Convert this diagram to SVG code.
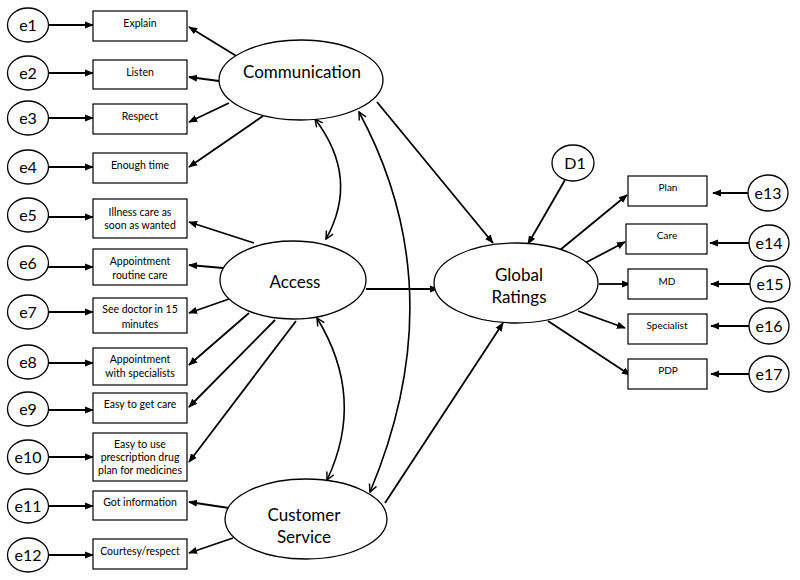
<svg xmlns="http://www.w3.org/2000/svg" width="800" height="580" viewBox="0 0 800 580">
<style>
.e{fill:#fff;stroke:#000;stroke-width:1.3}
.b{fill:#fff;stroke:#000;stroke-width:1.2}
.lt{font-family:Lato,"Liberation Sans",sans-serif;font-size:16px;text-anchor:middle;fill:#000}
.bt{font-family:Lato,"Liberation Sans",sans-serif;font-size:10.5px;text-anchor:middle;fill:#000}
.rt{font-family:Lato,"Liberation Sans",sans-serif;font-size:10px;text-anchor:middle;fill:#000}
.big{font-family:Lato,"Liberation Sans",sans-serif;font-size:17px;text-anchor:middle;fill:#000}
.c line{stroke:#000;stroke-width:1.8;marker-end:url(#ah)}
.c path{fill:none;stroke:#000;stroke-width:1.6;marker-start:url(#oh);marker-end:url(#oh)}
</style>
<defs>
<marker id="ah" viewBox="0 0 10 10" refX="9" refY="5" markerWidth="5" markerHeight="5" orient="auto" markerUnits="strokeWidth"><path d="M0,1 L10,5 L0,9 z" fill="#000"/></marker>
<marker id="oh" viewBox="0 0 10 10" refX="9" refY="5" markerWidth="6" markerHeight="6" orient="auto-start-reverse" markerUnits="strokeWidth"><path d="M1,1 L9,5 L1,9" fill="none" stroke="#000" stroke-width="1.5"/></marker>
</defs>
<rect width="800" height="580" fill="#fff"/>
<g class="c" id="connectors">
<line x1="48" y1="25" x2="93" y2="25"/>
<line x1="48" y1="73" x2="93" y2="73"/>
<line x1="48" y1="118" x2="93" y2="118"/>
<line x1="48" y1="167" x2="93" y2="167"/>
<line x1="48" y1="217" x2="93" y2="217"/>
<line x1="48" y1="267" x2="93" y2="267"/>
<line x1="48" y1="312" x2="93" y2="312"/>
<line x1="48" y1="363" x2="93" y2="363"/>
<line x1="48" y1="410" x2="93" y2="410"/>
<line x1="48" y1="457" x2="93" y2="457"/>
<line x1="48" y1="506" x2="93" y2="506"/>
<line x1="48" y1="555" x2="93" y2="555"/>
<line x1="238" y1="57" x2="189" y2="27"/>
<line x1="219" y1="81" x2="189" y2="77"/>
<line x1="229" y1="103" x2="189" y2="122"/>
<line x1="263" y1="116" x2="189" y2="167"/>
<line x1="254" y1="243" x2="189" y2="222"/>
<line x1="223" y1="268" x2="189" y2="265"/>
<line x1="229" y1="299" x2="189" y2="313"/>
<line x1="249" y1="313" x2="189" y2="365"/>
<line x1="275" y1="320" x2="189" y2="407"/>
<line x1="296" y1="321" x2="189" y2="462"/>
<line x1="229" y1="508" x2="189" y2="502"/>
<line x1="233" y1="538" x2="189" y2="553"/>
<line x1="377" y1="102" x2="493" y2="243"/>
<line x1="366" y1="289" x2="438" y2="289"/>
<line x1="385" y1="503" x2="503" y2="323"/>
<line x1="565" y1="180" x2="528" y2="244"/>
<line x1="560" y1="250" x2="627" y2="195"/>
<line x1="585" y1="263" x2="625" y2="242"/>
<line x1="599" y1="284" x2="630" y2="284"/>
<line x1="578" y1="311" x2="625" y2="328"/>
<line x1="548" y1="321" x2="630" y2="375"/>
<line x1="749" y1="193" x2="713" y2="193"/>
<line x1="749" y1="243" x2="710" y2="243"/>
<line x1="750" y1="284" x2="711" y2="284"/>
<line x1="749" y1="326" x2="711" y2="326"/>
<line x1="749" y1="374" x2="711" y2="374"/>
<path d="M315,119 Q360,178 326,239"/>
<path d="M317,318 Q366,398 327,480"/>
<path d="M359,112 Q455,290 370,492"/>
</g>
<g id="e1"><ellipse class="e" cx="28" cy="25" rx="20.5" ry="17"/><text class="lt" x="28" y="31">e1</text></g>
<g id="e2"><ellipse class="e" cx="28" cy="73" rx="20.5" ry="17"/><text class="lt" x="28" y="79">e2</text></g>
<g id="e3"><ellipse class="e" cx="28" cy="118" rx="20.5" ry="17"/><text class="lt" x="28" y="124">e3</text></g>
<g id="e4"><ellipse class="e" cx="28" cy="167" rx="20.5" ry="17"/><text class="lt" x="28" y="173">e4</text></g>
<g id="e5"><ellipse class="e" cx="28" cy="215" rx="20.5" ry="17"/><text class="lt" x="28" y="221">e5</text></g>
<g id="e6"><ellipse class="e" cx="28" cy="263" rx="20.5" ry="17"/><text class="lt" x="28" y="269">e6</text></g>
<g id="e7"><ellipse class="e" cx="28" cy="312" rx="20.5" ry="17"/><text class="lt" x="28" y="318">e7</text></g>
<g id="e8"><ellipse class="e" cx="28" cy="362" rx="20.5" ry="17"/><text class="lt" x="28" y="368">e8</text></g>
<g id="e9"><ellipse class="e" cx="28" cy="409" rx="20.5" ry="17"/><text class="lt" x="28" y="415">e9</text></g>
<g id="e10"><ellipse class="e" cx="28" cy="457" rx="20.5" ry="17"/><text class="lt" x="28" y="463">e10</text></g>
<g id="e11"><ellipse class="e" cx="28" cy="506" rx="20.5" ry="17"/><text class="lt" x="28" y="512">e11</text></g>
<g id="e12"><ellipse class="e" cx="28" cy="555" rx="20.5" ry="17"/><text class="lt" x="28" y="561">e12</text></g>
<g id="explain"><rect class="b" x="93" y="11" width="94" height="30"/><text class="bt" x="140" y="27">Explain</text></g>
<g id="listen"><rect class="b" x="93" y="60" width="94" height="29"/><text class="bt" x="140" y="76">Listen</text></g>
<g id="respect"><rect class="b" x="93" y="104" width="94" height="30"/><text class="bt" x="140" y="120">Respect</text></g>
<g id="enoughtime"><rect class="b" x="93" y="153" width="94" height="30"/><text class="bt" x="140" y="169">Enough time</text></g>
<g id="illness"><rect class="b" x="93" y="199" width="94" height="39"/><text class="bt" x="140" y="216">Illness care as</text><text class="bt" x="140" y="229">soon as wanted</text></g>
<g id="routine"><rect class="b" x="93" y="249" width="94" height="36"/><text class="bt" x="140" y="265">Appointment</text><text class="bt" x="140" y="279">routine care</text></g>
<g id="seedoctor"><rect class="b" x="93" y="298" width="94" height="35"/><text class="bt" x="140" y="313">See doctor in 15</text><text class="bt" x="140" y="328">minutes</text></g>
<g id="specialists"><rect class="b" x="93" y="348" width="94" height="37"/><text class="bt" x="140" y="363">Appointment</text><text class="bt" x="140" y="377">with specialists</text></g>
<g id="easycare"><rect class="b" x="93" y="393" width="94" height="30"/><text class="bt" x="140" y="408">Easy to get care</text></g>
<g id="drugplan"><rect class="b" x="93" y="433" width="94" height="48"/><text class="bt" x="140" y="448">Easy to use</text><text class="bt" x="140" y="461">prescription drug</text><text class="bt" x="140" y="474">plan for medicines</text></g>
<g id="gotinfo"><rect class="b" x="93" y="491" width="94" height="29"/><text class="bt" x="140" y="506">Got information</text></g>
<g id="courtesy"><rect class="b" x="93" y="539" width="94" height="30"/><text class="bt" x="140" y="555">Courtesy/respect</text></g>
<g id="communication"><ellipse class="e" cx="301" cy="80" rx="82" ry="40"/><text class="big" x="302" y="78">Communication</text></g>
<g id="access"><ellipse class="e" cx="293" cy="280" rx="73" ry="39"/><text class="big" x="295" y="288">Access</text></g>
<g id="customer"><ellipse class="e" cx="306" cy="519" rx="81" ry="40"/><text class="big" x="304" y="521">Customer</text><text class="big" x="304" y="543">Service</text></g>
<g id="global"><ellipse class="e" cx="516" cy="283" rx="82" ry="40"/><text class="big" x="519" y="281">Global</text><text class="big" x="519" y="303">Ratings</text></g>
<g id="d1"><ellipse class="e" cx="573" cy="163" rx="21" ry="18"/><text class="lt" x="575" y="169">D1</text></g>
<g id="plan"><rect class="b" x="628" y="176" width="79" height="30"/><text class="rt" x="668" y="191">Plan</text></g>
<g id="care"><rect class="b" x="626" y="224" width="81" height="30"/><text class="rt" x="667" y="239">Care</text></g>
<g id="md"><rect class="b" x="628" y="269" width="79" height="30"/><text class="rt" x="667" y="285">MD</text></g>
<g id="specialist"><rect class="b" x="628" y="314" width="79" height="30"/><text class="rt" x="667" y="329">Specialist</text></g>
<g id="pdp"><rect class="b" x="628" y="359" width="79" height="30"/><text class="rt" x="668" y="374">PDP</text></g>
<g id="e13"><ellipse class="e" cx="768" cy="193" rx="20" ry="18"/><text class="lt" x="768" y="199">e13</text></g>
<g id="e14"><ellipse class="e" cx="769" cy="243" rx="20" ry="18"/><text class="lt" x="769" y="249">e14</text></g>
<g id="e15"><ellipse class="e" cx="770" cy="284" rx="20" ry="18"/><text class="lt" x="770" y="290">e15</text></g>
<g id="e16"><ellipse class="e" cx="769" cy="326" rx="20" ry="18"/><text class="lt" x="769" y="332">e16</text></g>
<g id="e17"><ellipse class="e" cx="769" cy="374" rx="20" ry="18"/><text class="lt" x="769" y="380">e17</text></g>
</svg>
